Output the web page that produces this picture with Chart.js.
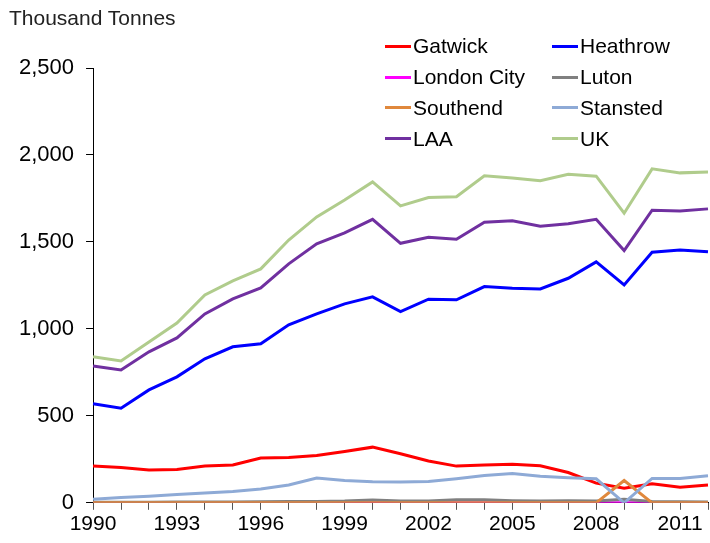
<!DOCTYPE html>
<html>
<head>
<meta charset="utf-8">
<script src="https://cdn.jsdelivr.net/npm/chart.js@4/dist/chart.umd.min.js"></script>
<style>
  body { margin: 0; background: #fff; font-family: "Liberation Sans", Arial, sans-serif; }
  #wrap { position: relative; width: 710px; height: 543px; }
  #unit { position: absolute; left: 9px; top: 6px; font-size: 21px; color: #222; }
  #legend { position: absolute; left: 385px; top: 33px; display: grid; grid-template-columns: 167px 140px; row-gap: 4px; }
  .item { display: flex; align-items: center; font-size: 21px; height: 26.8px; color: #000; }
  .swatch { width: 26px; height: 3px; margin-right: 2px; }
</style>
</head>
<body>
<div id="wrap">
  <canvas id="airChart" width="710" height="543"></canvas>
  <div id="unit">Thousand Tonnes</div>
  <div id="legend"></div>
</div>
<script>
// Freight tonnage by airport, thousand tonnes
const years = ["1990","1991","1992","1993","1994","1995","1996","1997","1998","1999","2000",
               "2001","2002","2003","2004","2005","2006","2007","2008","2009","2010","2011","2012"];

const gatwick    = [211,203,188,191,211,217,257,260,272,295,320,282,240,211,217,222,213,174,113,84,109,90,102];
const heathrow   = [569,544,649,724,828,897,914,1023,1086,1144,1184,1099,1171,1167,1243,1234,1230,1291,1385,1253,1441,1454,1443];
const londonCity = [0,0,0,0,0,0,0,0,0,0,0,0,0,0,0,0,0,0,0,0,0,0,0];
const luton      = [3,3,3,4,4,5,6,7,8,10,16,10,11,18,17,12,10,12,10,20,8,6,5];
const southend   = [0,0,0,0,0,0,0,0,0,0,0,0,0,0,0,0,0,0,0,128,0,0,0];
const stansted   = [20,30,38,48,57,65,79,102,142,128,121,119,122,138,157,168,153,144,138,0,140,140,155];
const laa        = [787,764,868,948,1086,1172,1236,1374,1489,1552,1630,1492,1527,1515,1613,1621,1590,1605,1630,1450,1682,1678,1690];
const uk         = [840,816,925,1034,1195,1276,1345,1511,1644,1741,1845,1707,1755,1760,1880,1868,1852,1889,1878,1665,1920,1897,1902];

const seriesNames  = ["Gatwick","Heathrow","London City","Luton","Southend","Stansted","LAA","UK"];
const seriesData   = [gatwick, heathrow, londonCity, luton, southend, stansted, laa, uk];
const seriesColors = ["#ff0000","#0000ff","#ff00ff","#808080","#e0883c","#8eaad6","#7030a0","#b0cc8c"];

const yTicks = [0, 500, 1000, 1500, 2000, 2500];

const datasets = seriesNames.map((name, i) => ({
    label: name,
    data: seriesData[i],
    borderColor: seriesColors[i],
    backgroundColor: seriesColors[i],
    borderWidth: 3,
    pointRadius: 0,
    tension: 0,
    order: seriesNames.length - i  // later series drawn on top, like the original
}));

const ctx = document.getElementById('airChart').getContext('2d');
new Chart(ctx, {
    type: 'line',
    data: { labels: years, datasets: datasets },
    options: {
        responsive: false,
        animation: false,
        layout: { padding: { top: 68, right: 1, left: 7, bottom: 4 } },
        plugins: {
            legend: { display: false },
            tooltip: { enabled: false }
        },
        scales: {
            x: {
                offset: false,
                border: { color: '#000', width: 1 },
                grid: { drawOnChartArea: false, tickLength: 7, color: '#555' },
                ticks: {
                    autoSkip: false,
                    maxRotation: 0,
                    padding: 2,
                    color: '#000',
                    font: { family: 'Liberation Sans', size: 21 },
                    callback: function(v, i) { return i % 3 === 0 ? years[i] : ''; }
                }
            },
            y: {
                min: yTicks[0],
                max: yTicks[yTicks.length - 1],
                afterBuildTicks: axis => { axis.ticks = yTicks.map(v => ({ value: v })); },
                border: { color: '#000', width: 1 },
                grid: { drawOnChartArea: false, tickLength: 7, color: '#000' },
                ticks: {
                    padding: 12,
                    color: '#000',
                    font: { family: 'Liberation Sans', size: 22 },
                    callback: v => v.toLocaleString('en-US')
                }
            }
        }
    }
});

// two-column legend inside the plot, as in the original
const legendBox = document.getElementById('legend');
seriesNames.forEach((name, i) => {
    const item = document.createElement('div');
    item.className = 'item';
    item.innerHTML = '<span class="swatch" style="background:' + seriesColors[i] + '"></span>' + name;
    legendBox.appendChild(item);
});
</script>
</body>
</html>
